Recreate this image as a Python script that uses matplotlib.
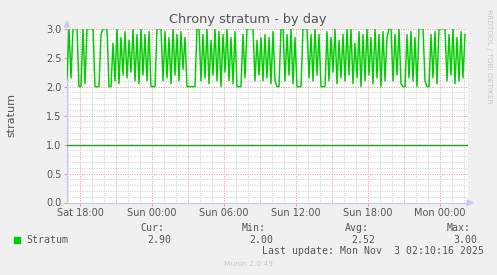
import numpy as np
import pandas as pd
import matplotlib
matplotlib.use("Agg")
import matplotlib.pyplot as plt
import matplotlib.dates as mdates
from matplotlib.patches import Polygon, Rectangle

# stratum samples, 10 min apart, starting Sat 1 Nov 2025 16:55
start = "2025-11-01 16:55"
stratum = [
    2.13, 3.0, 2.15, 3.0, 3.0, 3.0, 2.0, 2.0, 3.0, 2.05,
    3.0, 3.0, 3.0, 3.0, 2.0, 2.0, 2.0, 2.9, 3.0, 3.0,
    3.0, 2.0, 2.0, 2.75, 2.1, 3.0, 2.05, 2.85, 2.2, 2.95,
    2.15, 2.8, 2.25, 3.0, 2.1, 2.9, 2.05, 3.0, 2.2, 2.9,
    2.1, 2.95, 2.0, 2.0, 2.0, 3.0, 3.0, 3.0, 2.1, 2.95,
    2.15, 2.85, 2.05, 3.0, 2.2, 2.9, 2.1, 2.95, 2.3, 2.85,
    2.0, 2.0, 2.0, 2.0, 2.0, 3.0, 3.0, 2.1, 2.9, 2.15,
    3.0, 2.05, 2.8, 2.2, 3.0, 2.1, 2.95, 2.0, 2.9, 2.25,
    3.0, 2.1, 2.85, 2.05, 2.95, 2.0, 2.0, 2.0, 2.9, 2.15,
    3.0, 3.0, 3.0, 3.0, 2.1, 2.8, 2.2, 2.85, 2.1, 2.9,
    2.15, 2.85, 2.05, 2.95, 2.1, 2.0, 2.0, 3.0, 3.0, 2.1,
    2.9, 2.2, 3.0, 2.05, 2.85, 2.0, 2.0, 2.0, 3.0, 3.0,
    3.0, 2.15, 2.9, 2.1, 3.0, 2.2, 2.9, 2.0, 2.0, 2.0,
    2.95, 2.1, 2.85, 2.25, 3.0, 2.05, 2.8, 2.15, 2.9, 2.1,
    3.0, 2.2, 3.0, 2.05, 2.75, 2.15, 2.95, 2.0, 2.9, 2.1,
    3.0, 2.2, 2.85, 2.05, 3.0, 2.15, 2.9, 2.0, 2.95, 2.1,
    2.85, 3.0, 3.0, 2.1, 2.9, 2.2, 3.0, 2.05, 2.0, 2.0,
    2.9, 2.15, 2.95, 2.1, 2.85, 2.0, 3.0, 3.0, 3.0, 2.1,
    2.0, 2.0, 2.9, 2.15, 2.95, 2.05, 3.0, 3.0, 3.0, 3.0,
    2.1, 2.9, 2.2, 3.0, 2.05, 2.85, 2.1, 2.95, 2.15, 2.9,
]
times = pd.date_range(start, periods=len(stratum), freq="10min")

x_start = pd.Timestamp("2025-11-01 16:55")
x_end = pd.Timestamp("2025-11-03 02:20")
hrule = 1.0

legend_name = "Stratum"
stats_head = ["Cur:", "Min:", "Avg:", "Max:"]
stats_vals = ["2.90", "2.00", "2.52", "3.00"]
last_update = "Last update: Mon Nov  3 02:10:16 2025"

W, H = 497, 275
fig = plt.figure(figsize=(W / 100, H / 100), dpi=100, facecolor="#f0f0f0")


def fx(px):
    return px / W


def fy(py):
    return 1 - py / H


ax = fig.add_axes([fx(67), fy(202.5), fx(468) - fx(67), fy(28.7) - fy(202.5)])
ax.set_facecolor("white")

ax.plot(times, stratum, color="#00cc00", lw=1.05, zorder=3)
ax.axhline(hrule, color="#1f9a1f", lw=1.0, zorder=3)

ax.set_xlim(x_start, x_end)
ax.set_ylim(0, 3.0)

ax.xaxis.set_major_locator(mdates.HourLocator(byhour=range(0, 24, 6)))
ax.xaxis.set_major_formatter(mdates.DateFormatter("%a %H:%M"))
ax.xaxis.set_minor_locator(mdates.HourLocator(byhour=range(0, 24, 1)))
ax.yaxis.set_major_locator(plt.MultipleLocator(0.5))
ax.yaxis.set_major_formatter(plt.FormatStrFormatter("%.1f"))
ax.yaxis.set_minor_locator(plt.MultipleLocator(0.1))

# grid: grey minor, red major (every 3 h on the time axis)
red_c, grey_c = "#e0a0a0", "#cfcfcf"
for h in pd.date_range("2025-11-01 17:00", "2025-11-03 02:00", freq="1h"):
    red = h.hour % 3 == 0
    ax.axvline(h, color=red_c if red else grey_c, lw=0.72,
               ls=(0, (1, 1.4)), zorder=1)
for v in np.arange(0.1, 3.01, 0.1):
    red = abs(v * 2 - round(v * 2)) < 1e-6
    ax.axhline(v, color=red_c if red else grey_c, lw=0.72,
               ls=(0, (1, 1.4)), zorder=1)

for s in ["top", "right"]:
    ax.spines[s].set_visible(False)
for s in ["left", "bottom"]:
    ax.spines[s].set_color("#c8c8f0")
    ax.spines[s].set_linewidth(0.8)

ax.tick_params(axis="both", which="both", length=2, color=red_c,
               labelsize=7, labelcolor="#555555", pad=2)
ax.tick_params(axis="y", which="minor", length=0)
ax.tick_params(axis="x", which="minor", length=1, color=grey_c)

# axis arrows
fig.patches.append(Polygon([[fx(64.5), fy(27)], [fx(69.5), fy(27)], [fx(67), fy(21)]],
                           closed=True, transform=fig.transFigure, color="#c8c8f0"))
fig.patches.append(Polygon([[fx(467), fy(200)], [fx(467), fy(205.5)], [fx(473), fy(202.7)]],
                           closed=True, transform=fig.transFigure, color="#c8c8f0"))

fig.text(fx(248), fy(19), "Chrony stratum - by day", ha="center", va="center",
         fontsize=9.3, color="#555555")
fig.text(fx(11), fy(115), "stratum", ha="center", va="center", rotation=90,
         fontsize=8, color="#555555")
fig.text(fx(489), fy(56), "RRDTOOL / TOBI OETIKER", ha="center", va="center",
         rotation=270, fontsize=5.3, color="#c8c8c8")

mono = "DejaVu Sans Mono"
fig.patches.append(Rectangle((fx(14), fy(243)), fx(6), fy(237) - fy(243),
                             transform=fig.transFigure, color="#00cc00"))
fig.text(fx(26), fy(240), legend_name, ha="left", va="center", family=mono,
         fontsize=7.1, color="#555555")
head_x = [140, 242, 345, 447]
val_x = [147, 249, 351, 453]
for hx, vx, hd, vl in zip(head_x, val_x, stats_head, stats_vals):
    fig.text(fx(hx), fy(228), hd, ha="left", va="center", family=mono,
             fontsize=7.1, color="#555555")
    fig.text(fx(vx), fy(240), vl, ha="left", va="center", family=mono,
             fontsize=7.1, color="#555555")
fig.text(fx(262), fy(251), last_update, ha="left", va="center", family=mono,
         fontsize=7.1, color="#555555")
fig.text(fx(248), fy(264), "Munin 2.0.49", ha="center", va="center",
         fontsize=5.4, color="#c8c8c8")

fig.savefig("out.png", dpi=100, facecolor=fig.get_facecolor())
